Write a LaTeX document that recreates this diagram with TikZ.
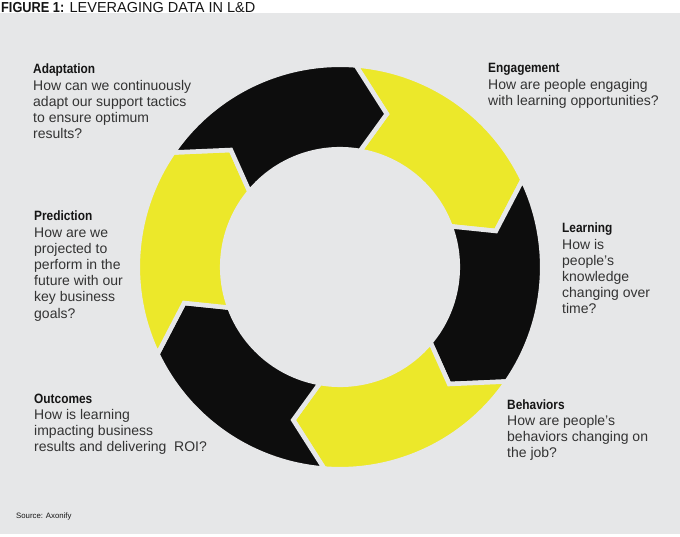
\documentclass[tikz,border=0pt]{standalone}
\usepackage{fontspec}
\setmainfont{Liberation Sans}
\newfontfamily\hdfont{Liberation Sans}[FakeStretch=0.88]
\definecolor{bg}{HTML}{E6E7E8}
\definecolor{ylw}{HTML}{ECE82A}
\definecolor{blk}{HTML}{0D0D0D}
\definecolor{bodyc}{HTML}{333333}
\definecolor{hdc}{HTML}{151515}
\newcommand\hdtxt[1]{{\hdfont\bfseries\fontsize{13.5}{16.2}\selectfont\color{hdc}#1}}
\tikzset{
  segfill/.style={fill=#1, draw=bg, line width=4.5pt, line join=miter},
  txt/.style={anchor=base west, align=left, inner sep=0pt, font=\fontsize{14}{16.2}\selectfont, text=bodyc}
}
\def\Ro{202.2pt}
\def\Rm{160pt}
\def\Ri{117.8pt}
\begin{document}
\begin{tikzpicture}[x=1pt,y=1pt]
\useasboundingbox (0,0) rectangle (680,536);
\fill[white] (0,0) rectangle (680,536);
\fill[bg] (0,2) rectangle (680,523);
\begin{scope}[shift={(340,269)}]
\foreach \i/\col in {0/ylw,1/blk,2/ylw,3/blk,4/ylw,5/blk}{
  \pgfmathsetmacro\tA{60*\i}
  \pgfmathsetmacro\oA{90-\tA-4.5}
  \pgfmathsetmacro\oB{90-\tA-64.5}
  \pgfmathsetmacro\pB{90-\tA-77}
  \pgfmathsetmacro\iB{90-\tA-69.8}
  \pgfmathsetmacro\iA{90-\tA-9.8}
  \pgfmathsetmacro\pA{90-\tA-17}
  \path[segfill=\col] (\oA:\Ro) arc[start angle=\oA, end angle=\oB, radius=\Ro]
     -- (\pB:\Rm) -- (\iB:\Ri) arc[start angle=\iB, end angle=\iA, radius=\Ri]
     -- (\pA:\Rm) -- cycle;
}
\end{scope}
\node[txt, font=\fontsize{14.5}{16}\selectfont, text=hdc] (title) at (1,523.5)
  {{\hdfont\bfseries FIGURE 1:} LEVERAGING DATA IN L\&D};
\node[txt] (adapt) at (33,397.2) {\hdtxt{Adaptation}\\How can we continuously\\adapt our support tactics\\to ensure optimum\\results?};
\node[txt] (engage) at (488,430.6) {\hdtxt{Engagement}\\How are people engaging\\with learning opportunities?};
\node[txt] (learn) at (562,222) {\hdtxt{Learning}\\How is\\people’s\\knowledge\\changing over\\time?};
\node[txt] (behav) at (507,78.4) {\hdtxt{Behaviors}\\How are people’s\\behaviors changing on\\the job?};
\node[txt] (predict) at (34,217.8) {\hdtxt{Prediction}\\How are we\\projected to\\perform in the\\future with our\\key business\\goals?};
\node[txt] (outcome) at (34,84.4) {\hdtxt{Outcomes}\\How is learning\\impacting business\\results and delivering\ \ ROI?};
\node[txt, font=\fontsize{7.8}{9}\selectfont, text=hdc] (source) at (16,18) {Source: Axonify};
\end{tikzpicture}
\end{document}
